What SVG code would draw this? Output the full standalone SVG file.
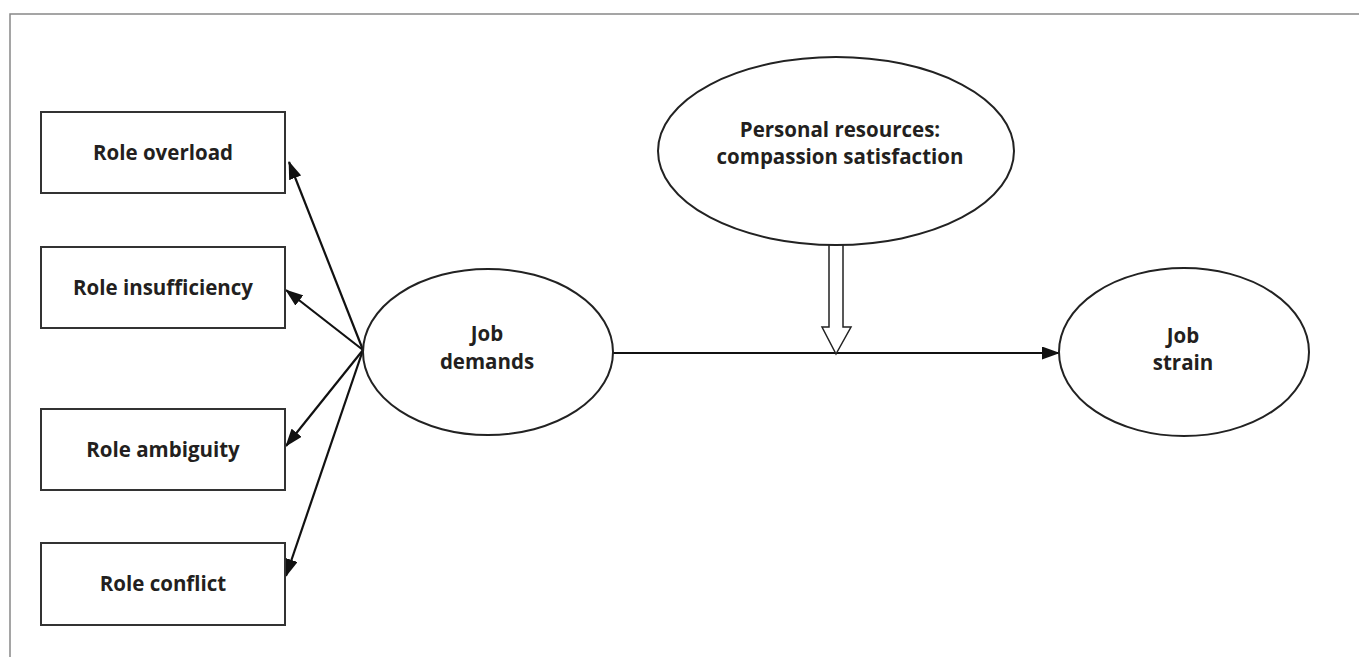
<svg xmlns="http://www.w3.org/2000/svg" width="1359" height="657" viewBox="0 0 1359 657">
<style>
.box{fill:#fff;stroke:#333;stroke-width:2}
.ell{fill:#fff;stroke:#222;stroke-width:2}
.lbl{font-family:"Open Sans","Liberation Sans",sans-serif;font-weight:bold;font-size:20.5px;fill:#231f20;text-anchor:middle}
.con{stroke:#111;stroke-width:2.2;fill:none}
</style>
<defs>
<marker id="ah" viewBox="0 0 18 13" refX="17" refY="6.5" markerWidth="18" markerHeight="13" markerUnits="userSpaceOnUse" orient="auto">
<path d="M0,0 L18,6.5 L0,13 Z" fill="#111"/>
</marker>
</defs>
<rect width="1359" height="657" fill="#fff"/>
<g id="frame">
<path d="M10,657 L10,14 L1359,14" fill="none" stroke="#888" stroke-width="1.5"/>
</g>
<g id="connectors">
<line class="con" x1="363" y1="350" x2="289" y2="162" marker-end="url(#ah)"/>
<line class="con" x1="363" y1="350" x2="286" y2="290" marker-end="url(#ah)"/>
<line class="con" x1="363" y1="350" x2="286" y2="446" marker-end="url(#ah)"/>
<line class="con" x1="363" y1="350" x2="286" y2="576" marker-end="url(#ah)"/>
<line class="con" x1="613" y1="353" x2="1059" y2="353" marker-end="url(#ah)"/>
<path d="M829,245 L829,327 L822,327 L836,354 L851,327 L843,327 L843,245" fill="#fff" stroke="#222" stroke-width="1.5"/>
</g>
<g id="role-overload">
<rect class="box" x="41" y="112" width="244" height="81"/>
<text class="lbl" x="163" y="160">Role overload</text>
</g>
<g id="role-insufficiency">
<rect class="box" x="41" y="247" width="244" height="81"/>
<text class="lbl" x="163" y="295">Role insufficiency</text>
</g>
<g id="role-ambiguity">
<rect class="box" x="41" y="409" width="244" height="81"/>
<text class="lbl" x="163" y="457">Role ambiguity</text>
</g>
<g id="role-conflict">
<rect class="box" x="41" y="543" width="244" height="82"/>
<text class="lbl" x="163" y="591">Role conflict</text>
</g>
<g id="job-demands">
<ellipse class="ell" cx="488" cy="352" rx="125" ry="83"/>
<text class="lbl" x="487" y="341">Job</text>
<text class="lbl" x="487" y="369">demands</text>
</g>
<g id="personal-resources">
<ellipse class="ell" cx="836" cy="151" rx="178" ry="94"/>
<text class="lbl" x="840" y="137">Personal resources:</text>
<text class="lbl" x="840" y="164">compassion satisfaction</text>
</g>
<g id="job-strain">
<ellipse class="ell" cx="1184" cy="352" rx="125" ry="84"/>
<text class="lbl" x="1183" y="343">Job</text>
<text class="lbl" x="1183" y="370">strain</text>
</g>
</svg>
